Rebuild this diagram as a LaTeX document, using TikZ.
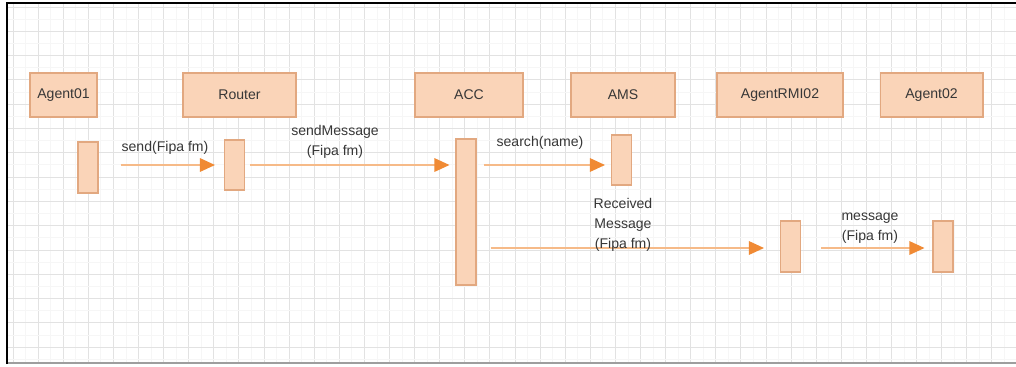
\documentclass[tikz,border=0pt]{standalone}
\usepackage{fontspec}
\setmainfont{Liberation Sans}
\usepackage{xcolor}
\definecolor{sqPeach}{RGB}{250,212,184}
\definecolor{sqPeachEdge}{RGB}{226,168,128}
\definecolor{sqOrange}{RGB}{240,138,52}
\definecolor{sqLine}{RGB}{246,186,136}
\definecolor{sqGrid}{RGB}{226,226,226}
\definecolor{sqText}{RGB}{55,55,55}
\usetikzlibrary{positioning,arrows.meta,calc}

\begin{document}
\begin{tikzpicture}[x=0.02cm,y=-0.02cm,
  head/.style={draw=sqPeachEdge,fill=sqPeach,line width=0.6pt,minimum height=0.88cm,inner sep=0pt,font=\fontsize{8}{10}\selectfont,text=sqText},
  bar/.style={draw=sqPeachEdge,fill=sqPeach,line width=0.6pt,minimum width=0.4cm,inner sep=0pt},
  msg/.style={sqLine,line width=0.8pt,-{Triangle[length=0.3cm,width=0.27cm,color=sqOrange]}},
  lbl/.style={font=\fontsize{8}{11.2}\selectfont,text=sqText,align=center,inner sep=0pt},
  gridline/.style={sqGrid,line width=0.5pt},
  gridminor/.style={sqGrid!30,line width=0.4pt}]
  \useasboundingbox (0,0) rectangle (1016,366);
  \fill[white] (0,0) rectangle (1016,366);
  % grid
  \foreach \x in {0,...,40} {
    \draw[gridminor] ({25.5+25.1*\x},4) -- ({25.5+25.1*\x},362);
    \draw[gridline] ({13+25.1*\x},4) -- ({13+25.1*\x},362);
  }
  \foreach \y in {0,...,14} {
    \draw[gridminor] (8,{19+24.3*\y}) -- (1016,{19+24.3*\y});
    \draw[gridline] (8,{7+24.3*\y}) -- (1016,{7+24.3*\y});
  }
  \draw[sqGrid!70!black,line width=0.6pt] (8,363) -- (1016,363);
  \draw[black,line width=1.1pt] (7,364) -- (7,3) -- (1016,3);

  % lifeline heads
  \node[head,minimum width=1.34cm] (agent01) at (63.5,95) {Agent01};
  \node[head,minimum width=2.26cm] (router) at (239.5,95) {Router};
  \node[head,minimum width=2.16cm] (acc) at (469,95) {ACC};
  \node[head,minimum width=2.08cm] (ams) at (623,95) {AMS};
  \node[head,minimum width=2.52cm] (rmi02) at (780,95) {AgentRMI02};
  \node[head,minimum width=2.06cm] (agent02) at (931.5,95) {Agent02};

  % activations
  \node[bar,minimum height=1.02cm] (agent01bar) at (88,167.5) {};
  \node[bar,minimum height=1.00cm] (routerbar) at (234.5,165) {};
  \node[bar,minimum height=2.92cm] (accbar) at (466,212) {};
  \node[bar,minimum height=1.00cm] (amsbar) at (621.5,160) {};
  \node[bar,minimum height=1.02cm] (rmi02bar) at (790.5,246.5) {};
  \node[bar,minimum height=1.02cm] (agent02bar) at (943,246.5) {};

  % messages
  \coordinate (row1) at (0,165);
  \coordinate (row2) at (0,248);
  \draw[msg,shorten <=0.44cm,shorten >=0.18cm] (agent01bar.east |- row1) -- (routerbar.west |- row1);
  \draw[msg,shorten <=0.1cm,shorten >=0.12cm] (routerbar.east |- row1) -- (accbar.west |- row1);
  \draw[msg,shorten <=0.14cm,shorten >=0.12cm] (accbar.east |- row1) -- (amsbar.west |- row1);
  \draw[msg,shorten <=0.28cm,shorten >=0.32cm] (accbar.east |- row2) -- (rmi02bar.west |- row2);
  \draw[msg,shorten <=0.4cm,shorten >=0.16cm] (rmi02bar.east |- row2) -- (agent02bar.west |- row2);

  % labels
  \node[lbl] (send) at (165,148) {send(Fipa fm)};
  \node[lbl] (sendmsg) at (335,142) {sendMessage\\(Fipa fm)};
  \node[lbl] (search) at (540,143) {search(name)};
  \node[lbl] (received) at (623,225) {Received\\Message\\(Fipa fm)};
  \node[lbl] (message) at (870,228) {message\\(Fipa fm)};
\end{tikzpicture}
\end{document}
